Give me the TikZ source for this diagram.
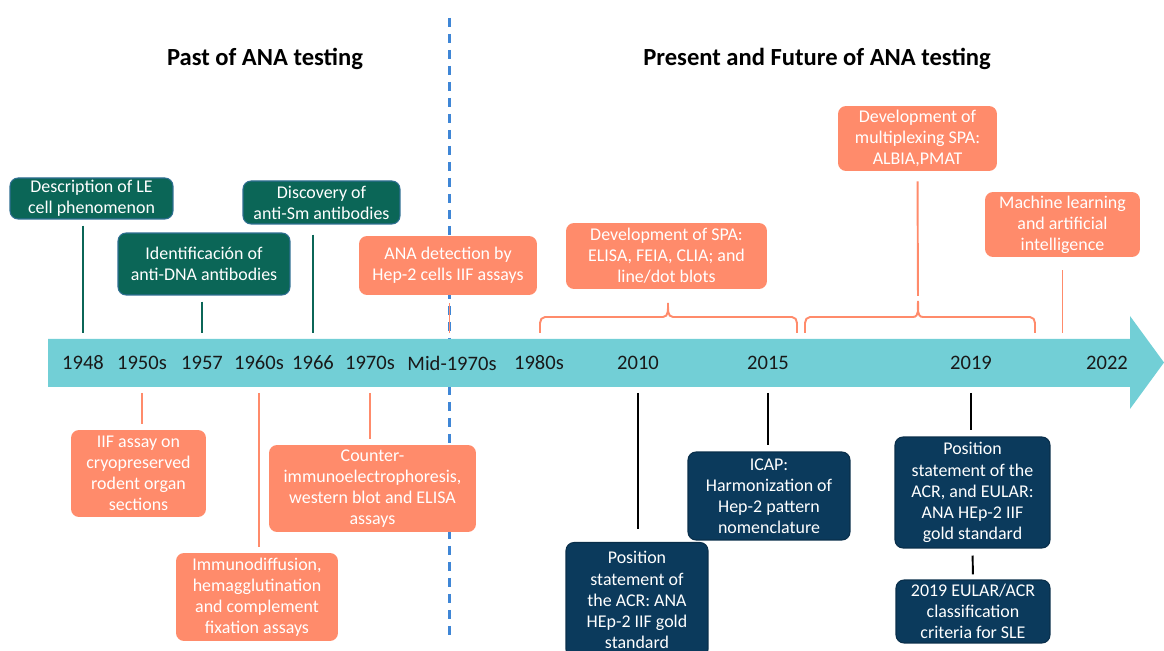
\documentclass[tikz,border=0pt]{standalone}
\usepackage{fontspec}
\setmainfont{Carlito}
\usetikzlibrary{positioning,calc}
\definecolor{band}{HTML}{72CFD6}
\definecolor{pastgreen}{HTML}{0B6657}
\definecolor{greenedge}{HTML}{2F6F92}
\definecolor{salmon}{HTML}{FF8B6B}
\definecolor{navy}{HTML}{0B3A5C}
\definecolor{sepblue}{HTML}{3F86D6}
\tikzset{
    x=0.02cm,
    y=-0.02cm,
    box/.style = {
        shape=rectangle,
        rounded corners=0.16cm,
        align=center,
        inner xsep=2pt,
        inner ysep=0.5pt,
        text=white,
        font=\fontsize{10.2}{12}\selectfont
    },
    past/.style = {
        box,
        fill=pastgreen,
        draw=greenedge,
        line width=0.6pt
    },
    spa/.style = {
        box,
        fill=salmon
    },
    guide/.style = {
        box,
        fill=navy,
        draw=navy!80!black,
        line width=0.6pt
    },
    year/.style = {
        font=\fontsize{11.7}{14}\selectfont,
        text=black!90
    },
    title/.style = {
        font=\fontsize{14}{17}\selectfont\bfseries
    },
    stem/.style = {
        line width=1.1pt,
        shorten <=0.12cm,
        shorten >=0.12cm
    },
    curly/.style = {
        draw=salmon,
        line width=1.1pt
    },
}

\begin{document}
\begin{tikzpicture}
            \useasboundingbox (0,0) rectangle (1164,651);

            \coordinate (septop) at (449.5,18);
            \coordinate (sepbot) at (449.5,641);
            \path[draw, sepblue, line width=1.3pt, dash pattern=on 0.18cm off 0.14cm] (septop) -- (sepbot);

            \node[title] (pasttitle) at (265,59) {Past of ANA testing};
            \node[title] (futuretitle) at (817,59) {Present and Future of ANA testing};

            % time axis
            \coordinate (bandtop) at (0,339);
            \coordinate (bandbot) at (0,387);
            \path[fill=band] (48,339) -- (1130,339) -- (1130,316) -- (1164,362.5)
            -- (1130,409) -- (1130,387) -- (48,387) -- cycle;

            \node[year] (y1948) at (83,363) {1948};
            \node[year] (y1950s) at (142,363) {1950s};
            \node[year] (y1957) at (202,363) {1957};
            \node[year] (y1960s) at (259,363) {1960s};
            \node[year] (y1966) at (313,363) {1966};
            \node[year] (y1970s) at (370,363) {1970s};
            \node[year] (ymid) at (452,363) {Mid-1970s};
            \node[year] (y1980s) at (539,363) {1980s};
            \node[year] (y2010) at (638,363) {2010};
            \node[year] (y2015) at (768,363) {2015};
            \node[year] (y2019) at (971,363) {2019};
            \node[year] (y2022) at (1107,363) {2022};

            \node[past, minimum width=3.26cm, minimum height=0.82cm] (desc) at (91.5,198.5)
            {Description of LE\\cell phenomenon};
            \node[past, minimum width=3.44cm, minimum height=1.24cm] (dna) at (204,264)
            {Identificación of\\anti-DNA antibodies};
            \node[past, minimum width=3.14cm, minimum height=0.86cm] (sm) at (321.5,202.5)
            {Discovery of\\anti-Sm antibodies};
            \node[spa, minimum width=3.56cm, minimum height=1.18cm] (hep) at (448,265.5)
            {ANA detection by\\Hep-2 cells IIF assays};
            \node[spa, minimum width=4.02cm, minimum height=1.32cm] (spa) at (666.5,256)
            {Development of SPA:\\ELISA, FEIA, CLIA; and\\line/dot blots};
            \node[spa, minimum width=3.18cm, minimum height=1.3cm] (multi) at (917.5,138.5)
            {Development of\\multiplexing SPA:\\ALBIA,PMAT};
            \node[spa, minimum width=3.1cm, minimum height=1.3cm] (ml) at (1062.5,224.5)
            {Machine learning\\and artificial\\intelligence};

            \node[spa, minimum width=2.7cm, minimum height=1.74cm] (iif) at (138.5,473.5)
            {IIF assay on\\cryopreserved\\rodent organ\\sections};
            \node[spa, minimum width=3.24cm, minimum height=1.76cm] (immuno) at (257,597)
            {Immunodiffusion,\\hemagglutination\\and complement\\fixation assays};
            \node[spa, minimum width=4.14cm, minimum height=1.74cm] (cie) at (372.5,488.5)
            {Counter-\\immunoelectrophoresis,\\western blot and ELISA\\assays};
            \node[guide, minimum width=2.84cm, minimum height=2.3cm] (acr) at (637,600)
            {Position\\statement of\\the ACR: ANA\\HEp-2 IIF gold\\standard};
            \node[guide, minimum width=3.24cm, minimum height=1.76cm] (icap) at (769,496)
            {ICAP:\\Harmonization of\\Hep-2 pattern\\nomenclature};
            \node[guide, minimum width=3.1cm, minimum height=2.22cm] (eular) at (972.5,492.5)
            {Position\\statement of the\\ACR, and EULAR:\\ANA HEp-2 IIF\\gold standard};
            \node[guide, minimum width=3.08cm, minimum height=1.26cm] (sle) at (973,611.5)
            {2019 EULAR/ACR\\classification\\criteria for SLE};

            \path[draw, stem, pastgreen] (desc.south -| y1948) -- (y1948 |- bandtop);
            \path[draw, stem, pastgreen] (dna.south -| y1957) -- (y1957 |- bandtop);
            \path[draw, stem, pastgreen, shorten <=0.2cm] (sm.south -| y1966) -- (y1966 |- bandtop);
            \path[draw, stem, salmon, shorten <=0.16cm] (hep.south -| septop) -- (septop |- bandtop);
            \path[draw, stem, salmon, shorten <=0.26cm] (ml.south) -- (ml.south |- bandtop);

            \coordinate (spaL) at (540,333);
            \coordinate (spaR) at (797,333);
            \coordinate (spatip) at (668,303);
            \coordinate (mulL) at (805,333);
            \coordinate (mulR) at (1035,333);
            \coordinate (multip) at (918,301);
            \path[curly] (spaL) -- ++(0,-10) to[out=90,in=180] ++(5,-6)
            -- ($(spatip)+(-5,14)$) to[out=0,in=-90] (spatip) to[out=-90,in=180] ++(5,14)
            -- ($(spaR)+(-5,-16)$) to[out=0,in=90] ++(5,6) -- (spaR);
            \path[curly] (mulL) -- ++(0,-10) to[out=90,in=180] ++(5,-6)
            -- ($(multip)+(-5,16)$) to[out=0,in=-90] (multip) to[out=-90,in=180] ++(5,16)
            -- ($(mulR)+(-5,-16)$) to[out=0,in=90] ++(5,6) -- (mulR);
            \path[draw, stem, salmon, shorten <=0.2cm, shorten >=0.1cm] (multi.south) -- (multip);

            \path[draw, stem, salmon] (y1950s |- bandbot) -- (iif.north -| y1950s);
            \path[draw, stem, salmon] (y1960s |- bandbot) -- (immuno.north -| y1960s);
            \path[draw, stem, salmon] (y1970s |- bandbot) -- (cie.north -| y1970s);
            \path[draw, stem, black, shorten >=0.26cm] (y2010 |- bandbot) -- (acr.north -| y2010);
            \path[draw, stem, black] (y2015 |- bandbot) -- (icap.north -| y2015);
            \path[draw, stem, black] (y2019 |- bandbot) -- (eular.north -| y2019);
            \path[draw, stem, black, shorten <=0.14cm, shorten >=0.1cm] (eular.south) -- (sle.north);
        \end{tikzpicture}
\end{document}
